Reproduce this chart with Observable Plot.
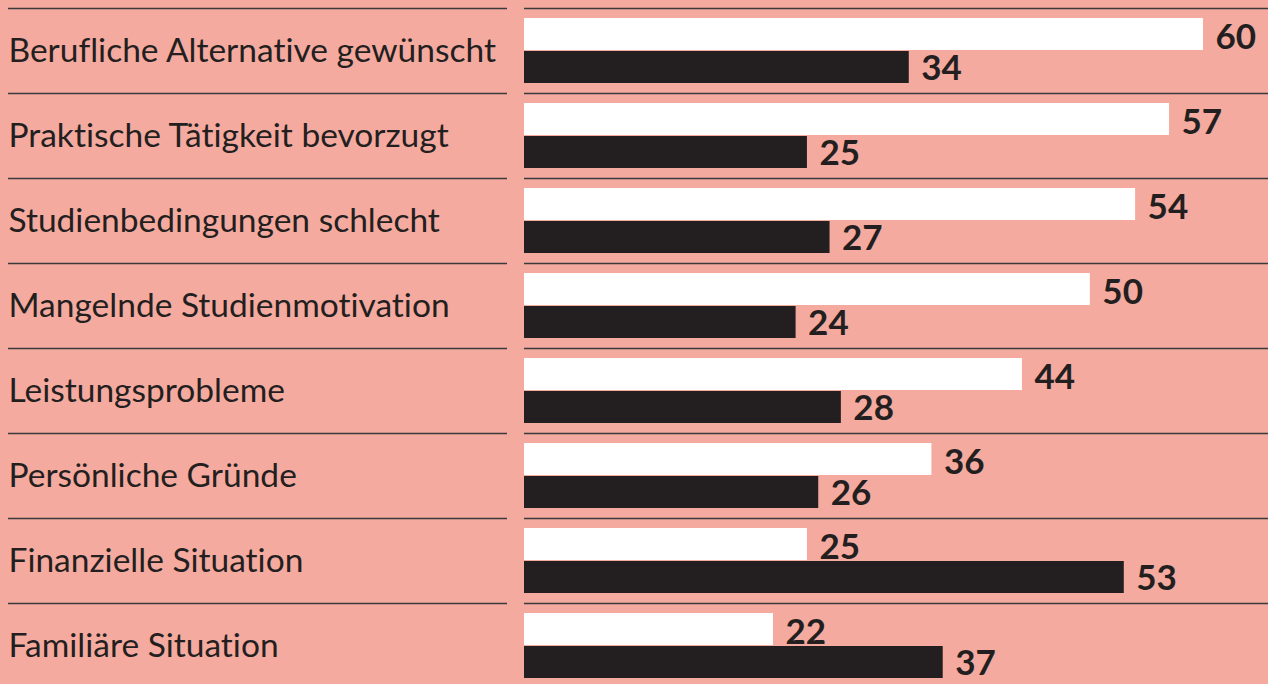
<!DOCTYPE html>
<html>
<head>
<meta charset="utf-8">
<script src="https://cdn.jsdelivr.net/npm/d3@7"></script>
<script src="https://cdn.jsdelivr.net/npm/@observablehq/plot@0.6"></script>
<style>
  html, body { margin: 0; padding: 0; background: #f5aa9f; overflow: hidden; }
  #chart svg { display: block; background: #f5aa9f; font-variant-ligatures: none; }
  #chart svg text { font-variant-ligatures: none; font-feature-settings: "liga" 0, "clig" 0; }
</style>
</head>
<body>
<div id="chart"></div>
<script>
const categories = [
  "Berufliche Alternative gewünscht",
  "Praktische Tätigkeit bevorzugt",
  "Studienbedingungen schlecht",
  "Mangelnde Studienmotivation",
  "Leistungsprobleme",
  "Persönliche Gründe",
  "Finanzielle Situation",
  "Familiäre Situation"
];
const seriesWhite = [60, 57, 54, 50, 44, 36, 25, 22];
const seriesDark = [34, 25, 27, 24, 28, 26, 53, 37];

const whiteData = categories.map((c, i) => ({category: c, value: seriesWhite[i]}));
const darkData = categories.map((c, i) => ({category: c, value: seriesDark[i]}));

const W = 1268, H = 684;
const x0 = 524, x60 = 1203;
const k = (x60 - x0) / 60;
const px = p => (p - x0) / k; // pixel -> data helper for rule extents

const ink = "#231f20";
const fontFam = "Lato, 'Open Sans', sans-serif";

const chart = Plot.plot({
  width: W,
  height: H,
  marginLeft: x0,
  marginRight: 0,
  marginTop: 0,
  marginBottom: 0,
  style: {background: "#f5aa9f", fontFamily: fontFam},
  x: {domain: [0, 60], range: [x0, x60], axis: null},
  y: {domain: categories, range: [8, 688], padding: 0, axis: null},
  marks: [
    Plot.ruleY(categories, {y: d => d, dy: -42.5, x1: px(8), x2: px(507), stroke: "#3a3a3a", strokeWidth: 1.6}),
    Plot.ruleY(categories, {y: d => d, dy: -42.5, x1: 0, x2: px(1268), stroke: "#3a3a3a", strokeWidth: 1.6}),
    Plot.barX(whiteData, {y: "category", x: "value", fill: "#ffffff", insetTop: 10, insetBottom: 43}),
    Plot.barX(darkData, {y: "category", x: "value", fill: ink, insetTop: 43, insetBottom: 10}),
    Plot.text(whiteData, {y: "category", x: "value", text: d => String(d.value), dx: 12, dy: -13, textAnchor: "start", fontWeight: "bold", fontSize: 35, fill: ink}),
    Plot.text(darkData, {y: "category", x: "value", text: d => String(d.value), dx: 12, dy: 18, textAnchor: "start", fontWeight: "bold", fontSize: 35, fill: ink}),
    Plot.axisY({tickSize: 0, tickPadding: 0, textAnchor: "start", dx: -516, fontSize: 33.5, fill: ink, label: null})
  ]
});
document.getElementById("chart").appendChild(chart);
</script>
</body>
</html>
